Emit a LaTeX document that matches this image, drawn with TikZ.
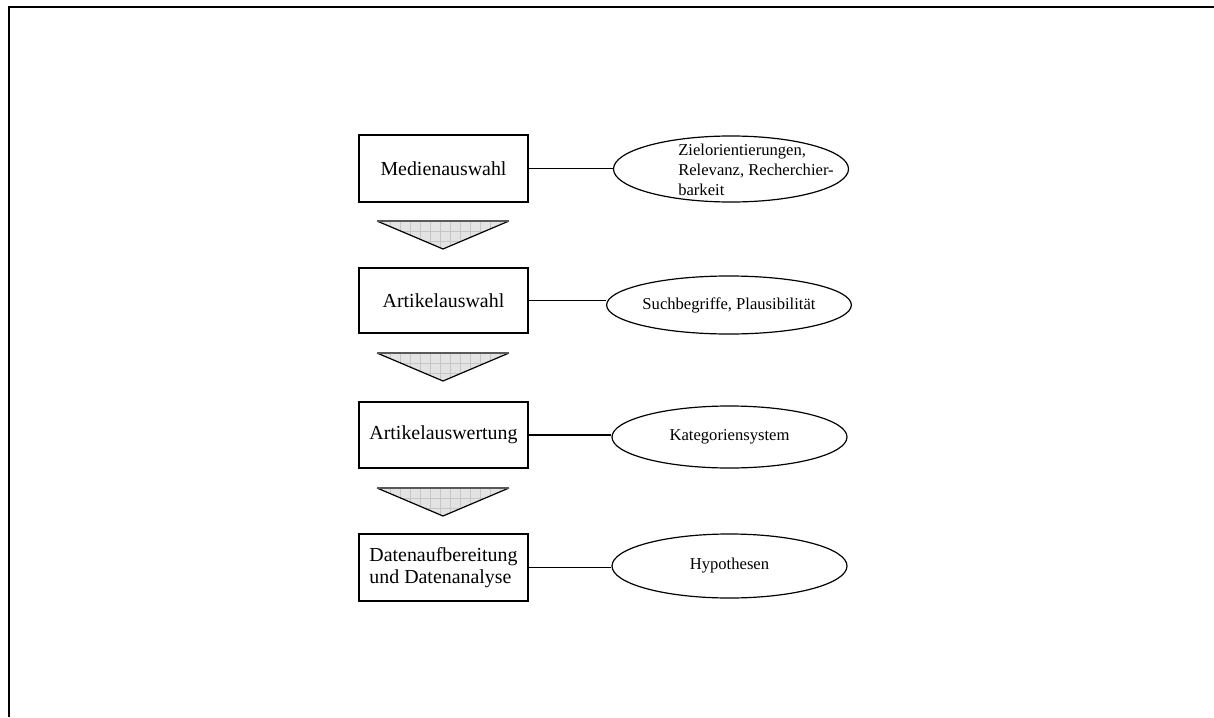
\documentclass[tikz,border=0pt]{standalone}
\usepackage{fontspec}
\setmainfont{Liberation Serif}
\usetikzlibrary{shapes.geometric}
\begin{document}
\begin{tikzpicture}[x=1pt,y=-1pt,
  stepbox/.style={draw,line width=1.2pt,rectangle,minimum width=169pt,inner sep=0pt,
    font=\fontsize{19.9}{22.5}\selectfont},
  crit/.style={draw,line width=1.2pt,ellipse,minimum width=235pt,inner sep=0pt},
  crittext/.style={font=\fontsize{16.6}{20}\selectfont,inner sep=0pt},
  link/.style={line width=1.2pt},
  funnel/.style={line width=1.2pt},
  hatch/.style={gray!45,line width=0.5pt}]
\useasboundingbox (0,0) rectangle (1214,717);
% page frame (top and left edges only)
\draw[line width=2.4pt] (8,7) -- (1214,7);
\draw[line width=2.4pt] (9,6) -- (9,717);

% process steps
\node[stepbox,minimum height=67pt] (b1) at (443.5,168.5) {Medienauswahl};
\node[stepbox,minimum height=65pt] (b2) at (443.5,300.5) {Artikelauswahl};
\node[stepbox,minimum height=66pt] (b3) at (443.5,435) {Artikelauswertung};
\node[stepbox,minimum height=67pt,align=left] (b4) at (443.5,567.5) {Datenaufbereitung\\und Datenanalyse};

% criteria ellipses
\node[crit,minimum height=66pt] (e1) at (731,169) {};
\node[crittext,align=left] (t1) at (756,170) {Zielorientierungen,\\Relevanz, Recherchier-\\barkeit};
\node[crit,minimum height=58pt,crittext] (e2) at (729,305) {Suchbegriffe, Plausibilität};
\node[crit,minimum height=62pt,crittext] (e3) at (729.5,437) {Kategoriensystem};
\node[crit,minimum height=64pt,crittext] (e4) at (729.5,566) {Hypothesen};

% connectors
\draw[link] (b1.east) -- (b1.east -| e1.west);
\draw[link] (b2.east) -- (b2.east -| e2.west);
\draw[link] (b3.east) -- (b3.east -| e3.west);
\draw[link] (b4.east) -- (b4.east -| e4.west);

% funnel arrows between the steps, filled with a light checked pattern
\foreach \ty in {221,353,488} {
  \begin{scope}
    \clip (377,\ty) -- (509,\ty) -- (443,\ty+28) -- cycle;
    \fill[gray!22] (370,\ty-2) rectangle (515,\ty+30);
    \foreach \gx in {380,390,...,510} \draw[hatch] (\gx,\ty) -- (\gx,\ty+30);
    \foreach \gy in {10,20} \draw[hatch] (370,\ty+\gy) -- (515,\ty+\gy);
  \end{scope}
  \draw[funnel] (377,\ty) -- (443,\ty+28) -- (509,\ty);
  \draw[gray!70!black,line width=1.6pt] (377,\ty) -- (509,\ty);
}
\end{tikzpicture}
\end{document}
